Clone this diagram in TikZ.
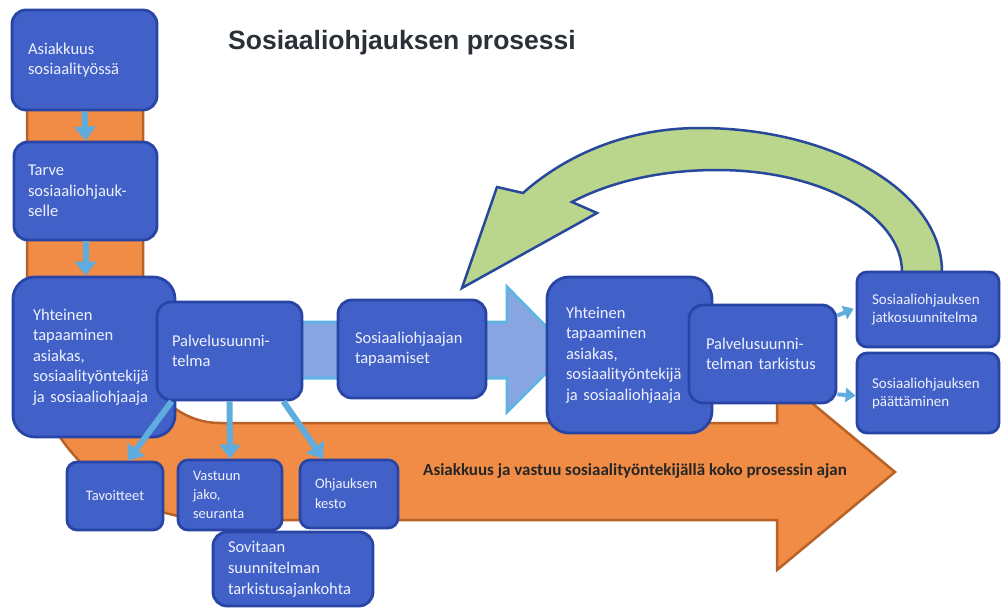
\documentclass[tikz,border=0pt]{standalone}
\usepackage{fontspec}
\setmainfont{Carlito}
\newfontfamily\titlefont{Liberation Sans}
\usetikzlibrary{arrows.meta}
\definecolor{boxfill}{RGB}{66,97,200}
\definecolor{boxline}{RGB}{40,68,165}
\definecolor{boxtext}{RGB}{238,241,252}
\definecolor{orfill}{RGB}{240,140,70}
\definecolor{orline}{RGB}{185,98,40}
\definecolor{lbfill}{RGB}{138,166,226}
\definecolor{lbline}{RGB}{95,180,228}
\definecolor{connblue}{RGB}{95,172,222}
\definecolor{grfill}{RGB}{185,214,140}
\definecolor{grline}{RGB}{40,72,155}
\definecolor{titlecol}{RGB}{42,48,56}
\newcommand\mkbox[8][]{%
  \pgfmathsetmacro\mkbw{#5-#3}%
  \pgfmathsetmacro\mkbh{#6-#4}%
  \pgfmathsetmacro\mkbt{#5-#3-2*#7}%
  \pgfmathsetmacro\mkbx{(#3+#5)/2}%
  \pgfmathsetmacro\mkby{(#4+#6)/2}%
  \node[box,minimum width=\mkbw pt,minimum height=\mkbh pt,inner xsep=#7pt,text width=\mkbt pt,#1] (#2) at (\mkbx,\mkby) {#8};}
\begin{document}
\begin{tikzpicture}[x=1pt,y=-1pt,
  box/.style={draw=boxline,fill=boxfill,line width=2.8pt,rounded corners=14pt,text=boxtext,align=left,inner ysep=0pt,font=\fontsize{16.5}{20.5}\selectfont},
  small/.style={font=\fontsize{14.5}{19}\selectfont},
  conn/.style={draw=connblue,line width=6pt,-{Triangle[width=21pt,length=14pt]}},
  connsm/.style={draw=connblue,line width=4pt,-{Triangle[width=14pt,length=10pt]}}]
\useasboundingbox (0,0) rectangle (1002,610);
\fill[white] (0,0) rectangle (1002,610);
% orange L arrow
\path[draw=orline,fill=orfill,line width=2.5pt,line join=miter]
  (27,60) -- (27,330) .. controls (27,435) and (112,520) .. (217,520)
  -- (777,520) -- (777,570) -- (895,472) -- (777,374) -- (777,423)
  -- (220,423) .. controls (177.5,423) and (143,388.5) .. (143,346)
  -- (143,60) -- cycle;
% light blue block arrow
\path[draw=lbline,fill=lbfill,line width=3pt]
  (250,322) -- (507,322) -- (507,287) -- (569,350) -- (507,412) -- (507,378) -- (250,378) -- cycle;
% green curved arrow
\path[draw=grline,fill=grfill,line width=2.5pt,line join=miter]
  (942,272) .. controls (942,190) and (830,128) .. (700,128)
  .. controls (620,128) and (560,160) .. (523,193)
  -- (497,187) -- (462,288) -- (597,213) -- (572,202)
  .. controls (610,182) and (660,170) .. (717,170)
  .. controls (820,170) and (902,215) .. (902,272) -- cycle;
% title
\node[anchor=base west,inner sep=0pt,text=titlecol,font=\titlefont\bfseries\fontsize{26.5}{30}\selectfont] (title) at (228,50) {Sosiaaliohjauksen prosessi};
% boxes
\mkbox{b1}{12}{10}{157}{110}{16}{Asiakkuus\\sosiaalityössä}
\mkbox{b2}{14}{142}{157}{240}{14}{Tarve\\sosiaaliohjauk-\\selle}
\mkbox[rounded corners=22pt]{b3}{13}{277}{175}{437}{20}{Yhteinen\\tapaaminen\\asiakas,\\sosiaalityöntekijä\\ja sosiaaliohjaaja}
\mkbox{b4}{157}{302}{302}{400}{15}{Palvelusuunni-\\telma}
\mkbox{b5}{338}{300}{486}{398}{17}{Sosiaaliohjaajan\\tapaamiset}
\mkbox[small,align=center,rounded corners=10pt]{b6}{67}{462}{163}{530}{6}{Tavoitteet}
\mkbox[small,rounded corners=10pt]{b7}{178}{460}{282}{530}{15}{Vastuun\\jako,\\seuranta}
\mkbox[small,rounded corners=10pt,font=\fontsize{14.5}{20}\selectfont]{b8}{300}{460}{398}{528}{15}{Ohjauksen\\kesto}
\mkbox[font=\fontsize{16.5}{21}\selectfont]{b9}{213}{532}{373}{606}{15}{Sovitaan\\suunnitelman\\tarkistusajankohta}
\mkbox[rounded corners=22pt]{b10}{547}{277}{712}{433}{19}{Yhteinen\\tapaaminen\\asiakas,\\sosiaalityöntekijä\\ja sosiaaliohjaaja}
\mkbox{b11}{689}{305}{836}{403}{17}{Palvelusuunni-\\telman tarkistus}
\mkbox[rounded corners=10pt,font=\fontsize{15}{18}\selectfont]{b12}{857}{272}{999}{347}{15}{Sosiaaliohjauksen\\jatkosuunnitelma}
\mkbox[rounded corners=10pt,font=\fontsize{15}{18}\selectfont]{b13}{857}{353}{999}{433}{15}{Sosiaaliohjauksen\\päättäminen}
% band text
\node[anchor=base west,inner sep=0pt,text=black!85,font=\bfseries\fontsize{17}{19}\selectfont] (band) at (423,475) {Asiakkuus ja vastuu sosiaalityöntekijällä koko prosessin ajan};
% connectors
\draw[conn] (b1.south) -- (b2.north);
\draw[conn] (b2.south) -- (b3.north -| b2.south);
\draw[conn] ([xshift=16pt]b4.south west) -- ([xshift=13pt]b6.north);
\draw[conn] (b4.south) -- (b7.north);
\draw[conn] ([xshift=-20pt]b4.south east) -- ([xshift=-26pt]b8.north);
\draw[connsm] ([yshift=-12pt]b11.north east) -- ([yshift=-38pt,xshift=-2pt]b12.north west);
\draw[connsm] ([yshift=10pt]b11.south east) -- ([yshift=-44pt]b13.north west);
\end{tikzpicture}
\end{document}
